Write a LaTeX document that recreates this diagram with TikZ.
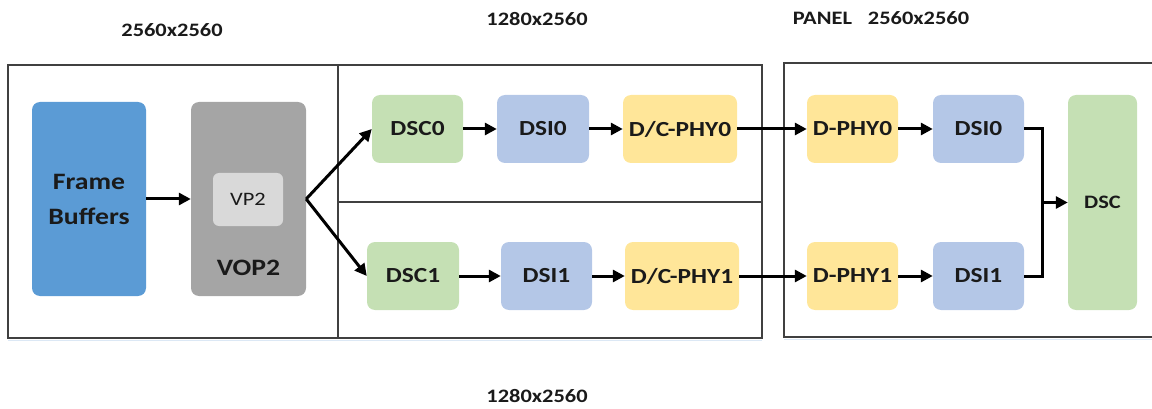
\documentclass[tikz,border=0pt]{standalone}
\usepackage{fontspec}
\setmainfont{Carlito}
\newfontfamily\lblfont[FakeStretch=1.18]{Carlito}
\usetikzlibrary{arrows.meta}

\definecolor{fbblue}{HTML}{5B9BD5}
\definecolor{vopgray}{HTML}{A5A5A5}
\definecolor{vpgray}{HTML}{D9D9D9}
\definecolor{dscgreen}{HTML}{C5E0B4}
\definecolor{dsiblue}{HTML}{B4C7E7}
\definecolor{phyyellow}{HTML}{FFE699}
\definecolor{ink}{HTML}{1A1A1A}
\definecolor{frame}{HTML}{404040}
\definecolor{haze}{HTML}{DCE8F5}

\tikzset{
  blk/.style={rounded corners=8pt, inner sep=0pt, text=ink,
    font=\lblfont\bfseries\fontsize{21.5}{24}\selectfont},
  panel/.style={draw=frame, line width=1.6pt},
  shade/.style={draw=haze, line width=1.5pt},
  wire/.style={line width=3pt, line join=miter},
  flow/.style={wire, -{Triangle[length=12pt,width=12pt]}},
  dim/.style={text=ink, inner sep=0pt,
    font=\lblfont\bfseries\fontsize{19}{22}\selectfont}
}

\begin{document}
\begin{tikzpicture}[x=1pt,y=-1pt]
\useasboundingbox (0,0) rectangle (1152,409);

% resolution labels
\node[dim] (resA) at (172,30) {2560x2560};
\node[dim] (resB) at (537,19) {1280x2560};
\node[dim] (resC) at (537,396) {1280x2560};
\node[dim] (resP) at (881,18) {PANEL\hspace{16pt}2560x2560};

% faint edges under the enclosures
\draw[shade] (8,340.5) -- (762,340.5);
\draw[shade] (784,339.5) -- (1152,339.5);

% enclosures
\draw[panel] (8,65) rectangle (338,338);
\draw[panel] (338,65) rectangle (762,338);
\draw[panel] (338,202) -- (762,202);
\draw[panel] (1160,63) -| (784,337) -- (1160,337);

% source side
\node[blk, fill=fbblue, minimum width=114pt, minimum height=194pt,
      align=center, font=\lblfont\bfseries\fontsize{23.5}{35}\selectfont]
      (fb) at (89,199) {Frame\\Buffers};
\node[blk, fill=vopgray, minimum width=115pt, minimum height=194pt] (vop) at (248.5,199) {};
\node[blk, fill=vpgray, minimum width=70pt, minimum height=53pt, rounded corners=6pt,
      font=\lblfont\fontsize{19}{21}\selectfont] (vp) at (248,199.5) {VP2};
\node[text=ink, inner sep=0pt, font=\lblfont\bfseries\fontsize{23.5}{26}\selectfont]
      (voplbl) at (248.5,268) {VOP2};

% link chain 0
\node[blk, fill=dscgreen,  minimum width=91pt,  minimum height=68pt] (dsc0) at (417.5,129) {DSC0};
\node[blk, fill=dsiblue,   minimum width=92pt,  minimum height=68pt] (dsi0) at (543,129) {DSI0};
\node[blk, fill=phyyellow, minimum width=114pt, minimum height=68pt] (cphy0) at (680,129) {D/C-PHY0};
% link chain 1
\node[blk, fill=dscgreen,  minimum width=92pt,  minimum height=68pt] (dsc1) at (413,276) {DSC1};
\node[blk, fill=dsiblue,   minimum width=91pt,  minimum height=68pt] (dsi1) at (546.5,276) {DSI1};
\node[blk, fill=phyyellow, minimum width=114pt, minimum height=68pt] (cphy1) at (682,276) {D/C-PHY1};

% panel side
\node[blk, fill=phyyellow, minimum width=91pt, minimum height=68pt] (rphy0) at (852.5,129) {D-PHY0};
\node[blk, fill=dsiblue,   minimum width=91pt, minimum height=68pt] (rdsi0) at (978.5,129) {DSI0};
\node[blk, fill=phyyellow, minimum width=91pt, minimum height=68pt] (rphy1) at (852.5,276) {D-PHY1};
\node[blk, fill=dsiblue,   minimum width=91pt, minimum height=68pt] (rdsi1) at (978.5,276) {DSI1};
\node[blk, fill=dscgreen,  minimum width=69pt, minimum height=215pt,
      font=\lblfont\bfseries\fontsize{19}{21}\selectfont] (rdsc) at (1102.5,202.5) {DSC};

% connectors
\draw[flow] (fb.east) -- (vop.west);
\draw[flow] (vop.east) -- (dsc0.west);
\draw[flow] (vop.east) -- (dsc1.west);

\draw[flow] (dsc0) -- (dsi0);
\draw[flow] (dsi0) -- (cphy0);
\draw[flow] (cphy0) -- (rphy0);
\draw[flow] (rphy0) -- (rdsi0);

\draw[flow] (dsc1) -- (dsi1);
\draw[flow] (dsi1) -- (cphy1);
\draw[flow] (cphy1) -- (rphy1);
\draw[flow] (rphy1) -- (rdsi1);

\coordinate (merge) at (1042,202.5);
\draw[wire] (rdsi0.east) -| (merge) |- (rdsi1.east);
\draw[flow] (merge) -- (rdsc.west);
\end{tikzpicture}
\end{document}
